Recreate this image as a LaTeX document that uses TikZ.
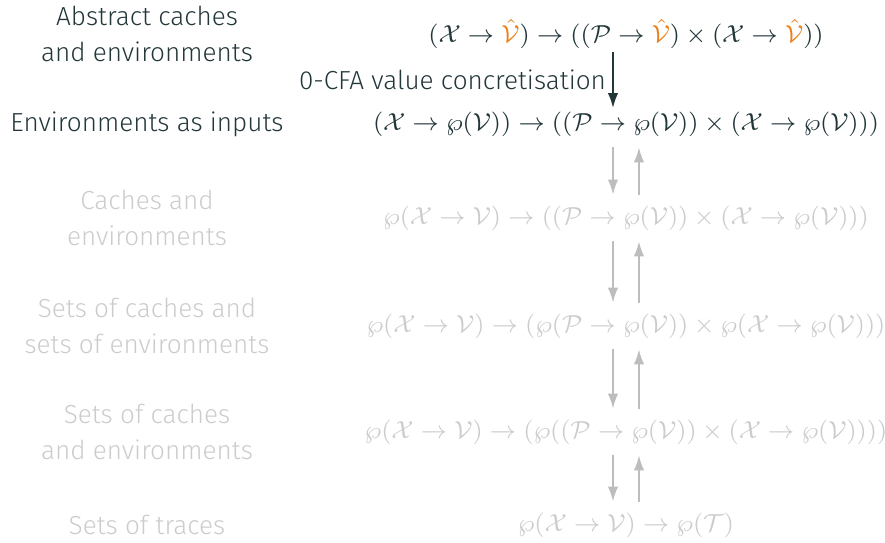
\RequirePackage{fix-cm}
\documentclass[tikz,border=0pt]{standalone}
\usepackage{fontspec}
\setmainfont{Fira Sans}[UprightFont=* Light]
\usetikzlibrary{arrows.meta}
\definecolor{mDarkTeal}{HTML}{23373B}
\definecolor{mOrange}{HTML}{EB811B}
\definecolor{mFaded}{HTML}{CCCCCC}
\definecolor{mFadedArrow}{HTML}{BDBDBD}
\begin{document}
\begin{tikzpicture}[x=0.3333pt, y=-0.3333pt,
    every node/.style={inner sep=1pt},
    lbl/.style={align=center, text=mDarkTeal, font=\fontsize{8.7}{12}\selectfont},
    frm/.style={text=mDarkTeal, font=\fontsize{8.2}{12}\selectfont},
    faded/.style={text=mFaded},
    conc/.style={-{Latex[length=5pt,width=3.5pt]}, draw=mDarkTeal, line width=0.7pt},
    pair/.style={-{Latex[length=5pt,width=3.5pt]}, draw=mFadedArrow, line width=0.65pt}]
    \useasboundingbox (0,0) rectangle (885,543);
    % Level labels
    \node[lbl] (abslbl) at (147,34) {Abstract caches\\and environments};
    \node[lbl] (envlbl) at (147,124) {Environments as inputs};
    \node[lbl, faded] (cachelbl) at (147,218) {Caches and\\environments};
    \node[lbl, faded] (setslbl) at (147,326) {Sets of caches and\\sets of environments};
    \node[lbl, faded] (setcachelbl) at (147,432) {Sets of caches\\and environments};
    \node[lbl, faded] (traceslbl) at (147,525) {Sets of traces};
    % Domains
    \node[frm] (abs) at (626,34) {$(\mathcal{X} \to \textcolor{mOrange}{\hat{\mathcal{V}}}) \to ((\mathcal{P} \to \textcolor{mOrange}{\hat{\mathcal{V}}}) \times (\mathcal{X} \to \textcolor{mOrange}{\hat{\mathcal{V}}}))$};
    \node[frm] (envin) at (626,124) {$(\mathcal{X} \to \wp(\mathcal{V})) \to ((\mathcal{P} \to \wp(\mathcal{V})) \times (\mathcal{X} \to \wp(\mathcal{V})))$};
    \node[frm, faded] (cache) at (626,218) {$\wp(\mathcal{X} \to \mathcal{V}) \to ((\mathcal{P} \to \wp(\mathcal{V})) \times (\mathcal{X} \to \wp(\mathcal{V})))$};
    \node[frm, faded] (sets) at (626,326) {$\wp(\mathcal{X} \to \mathcal{V}) \to (\wp(\mathcal{P} \to \wp(\mathcal{V})) \times \wp(\mathcal{X} \to \wp(\mathcal{V})))$};
    \node[frm, faded] (setcache) at (626,432) {$\wp(\mathcal{X} \to \mathcal{V}) \to (\wp((\mathcal{P} \to \wp(\mathcal{V})) \times (\mathcal{X} \to \wp(\mathcal{V}))))$};
    \node[frm, faded] (traces) at (626,525) {$\wp(\mathcal{X} \to \mathcal{V}) \to \wp(\mathcal{T})$};
    % Concretisation
    \draw[conc] ([xshift=-4.33pt]abs.south) -- node[left, lbl, xshift=-1pt] {0-CFA value concretisation} ([xshift=-4.33pt]envin.north);
    % Galois connections
    \foreach \a/\b in {envin/cache, cache/sets, sets/setcache, setcache/traces} {
        \draw[pair] ([xshift=-4.33pt,yshift=-2.5pt]\a.south) -- ([xshift=-4.33pt,yshift=2.5pt]\b.north);
        \draw[pair] ([xshift=4.33pt,yshift=2.5pt]\b.north) -- ([xshift=4.33pt,yshift=-2.5pt]\a.south);
    }
\end{tikzpicture}
\end{document}
